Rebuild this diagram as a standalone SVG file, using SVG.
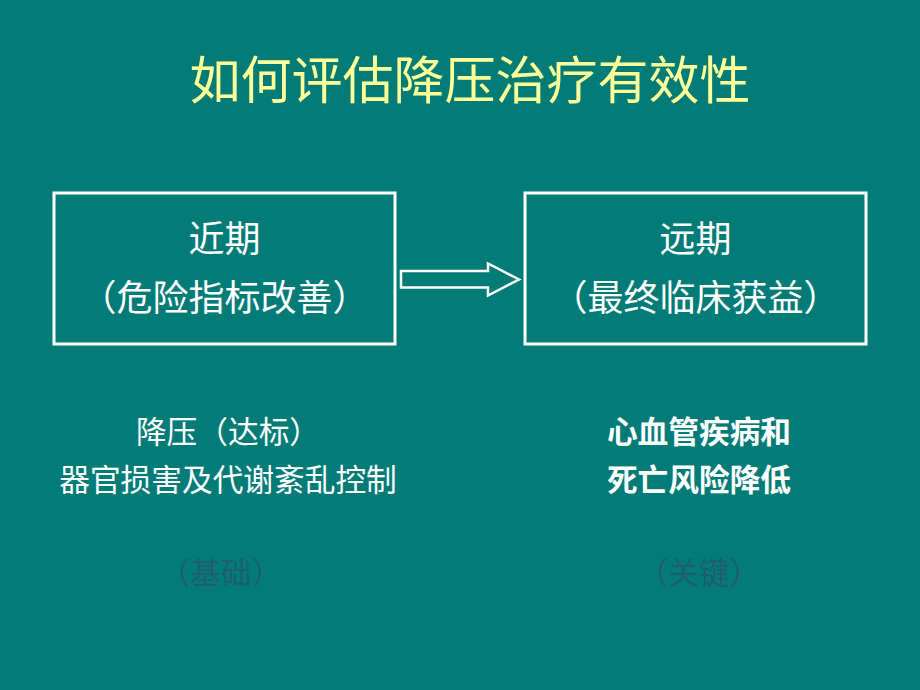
<svg xmlns="http://www.w3.org/2000/svg" width="920" height="690" viewBox="0 0 920 690">
<style>
text{font-family:"Noto Sans CJK SC","Noto Sans CJK JP",sans-serif;text-anchor:middle}
.title{fill:#FFFF99;font-size:51px}
.box{fill:#FFFFFF;font-size:36px}
.note{fill:#FFFFFF;font-size:30.7px}
.bold{font-weight:bold}
.ghost{fill:#1F5E6C;font-size:30.7px}
.frame{fill:none;stroke:#FFFFFF;stroke-width:3}
</style>
<rect x="0" y="0" width="920" height="690" fill="#037C78"/>
<g id="title"><text class="title" x="470" y="99">如何评估降压治疗有效性</text></g>
<g id="node-near">
<rect class="frame" x="54" y="193" width="341" height="151"/>
<text class="box" x="224.5" y="252">近期</text>
<text class="box" x="224.5" y="311">（危险指标改善）</text>
</g>
<g id="node-far">
<rect class="frame" x="525" y="193" width="341" height="151"/>
<text class="box" x="695.5" y="252">远期</text>
<text class="box" x="695.5" y="311">（最终临床获益）</text>
</g>
<g id="connectors">
<path d="M401,271 L488,271 L488,263.5 L519,279.5 L488,295.5 L488,287.5 L401,287.5 Z" fill="none" stroke="#FFFFFF" stroke-width="2.5" stroke-linejoin="miter"/>
</g>
<g id="note-left">
<text class="note" x="228" y="443">降压（达标）</text>
<text class="note" x="228" y="491">器官损害及代谢紊乱控制</text>
<text class="ghost" x="221" y="584">（基础）</text>
</g>
<g id="note-right">
<text class="note bold" x="699" y="443">心血管疾病和</text>
<text class="note bold" x="699" y="491">死亡风险降低</text>
<text class="ghost" x="699" y="584">（关键）</text>
</g>
</svg>
